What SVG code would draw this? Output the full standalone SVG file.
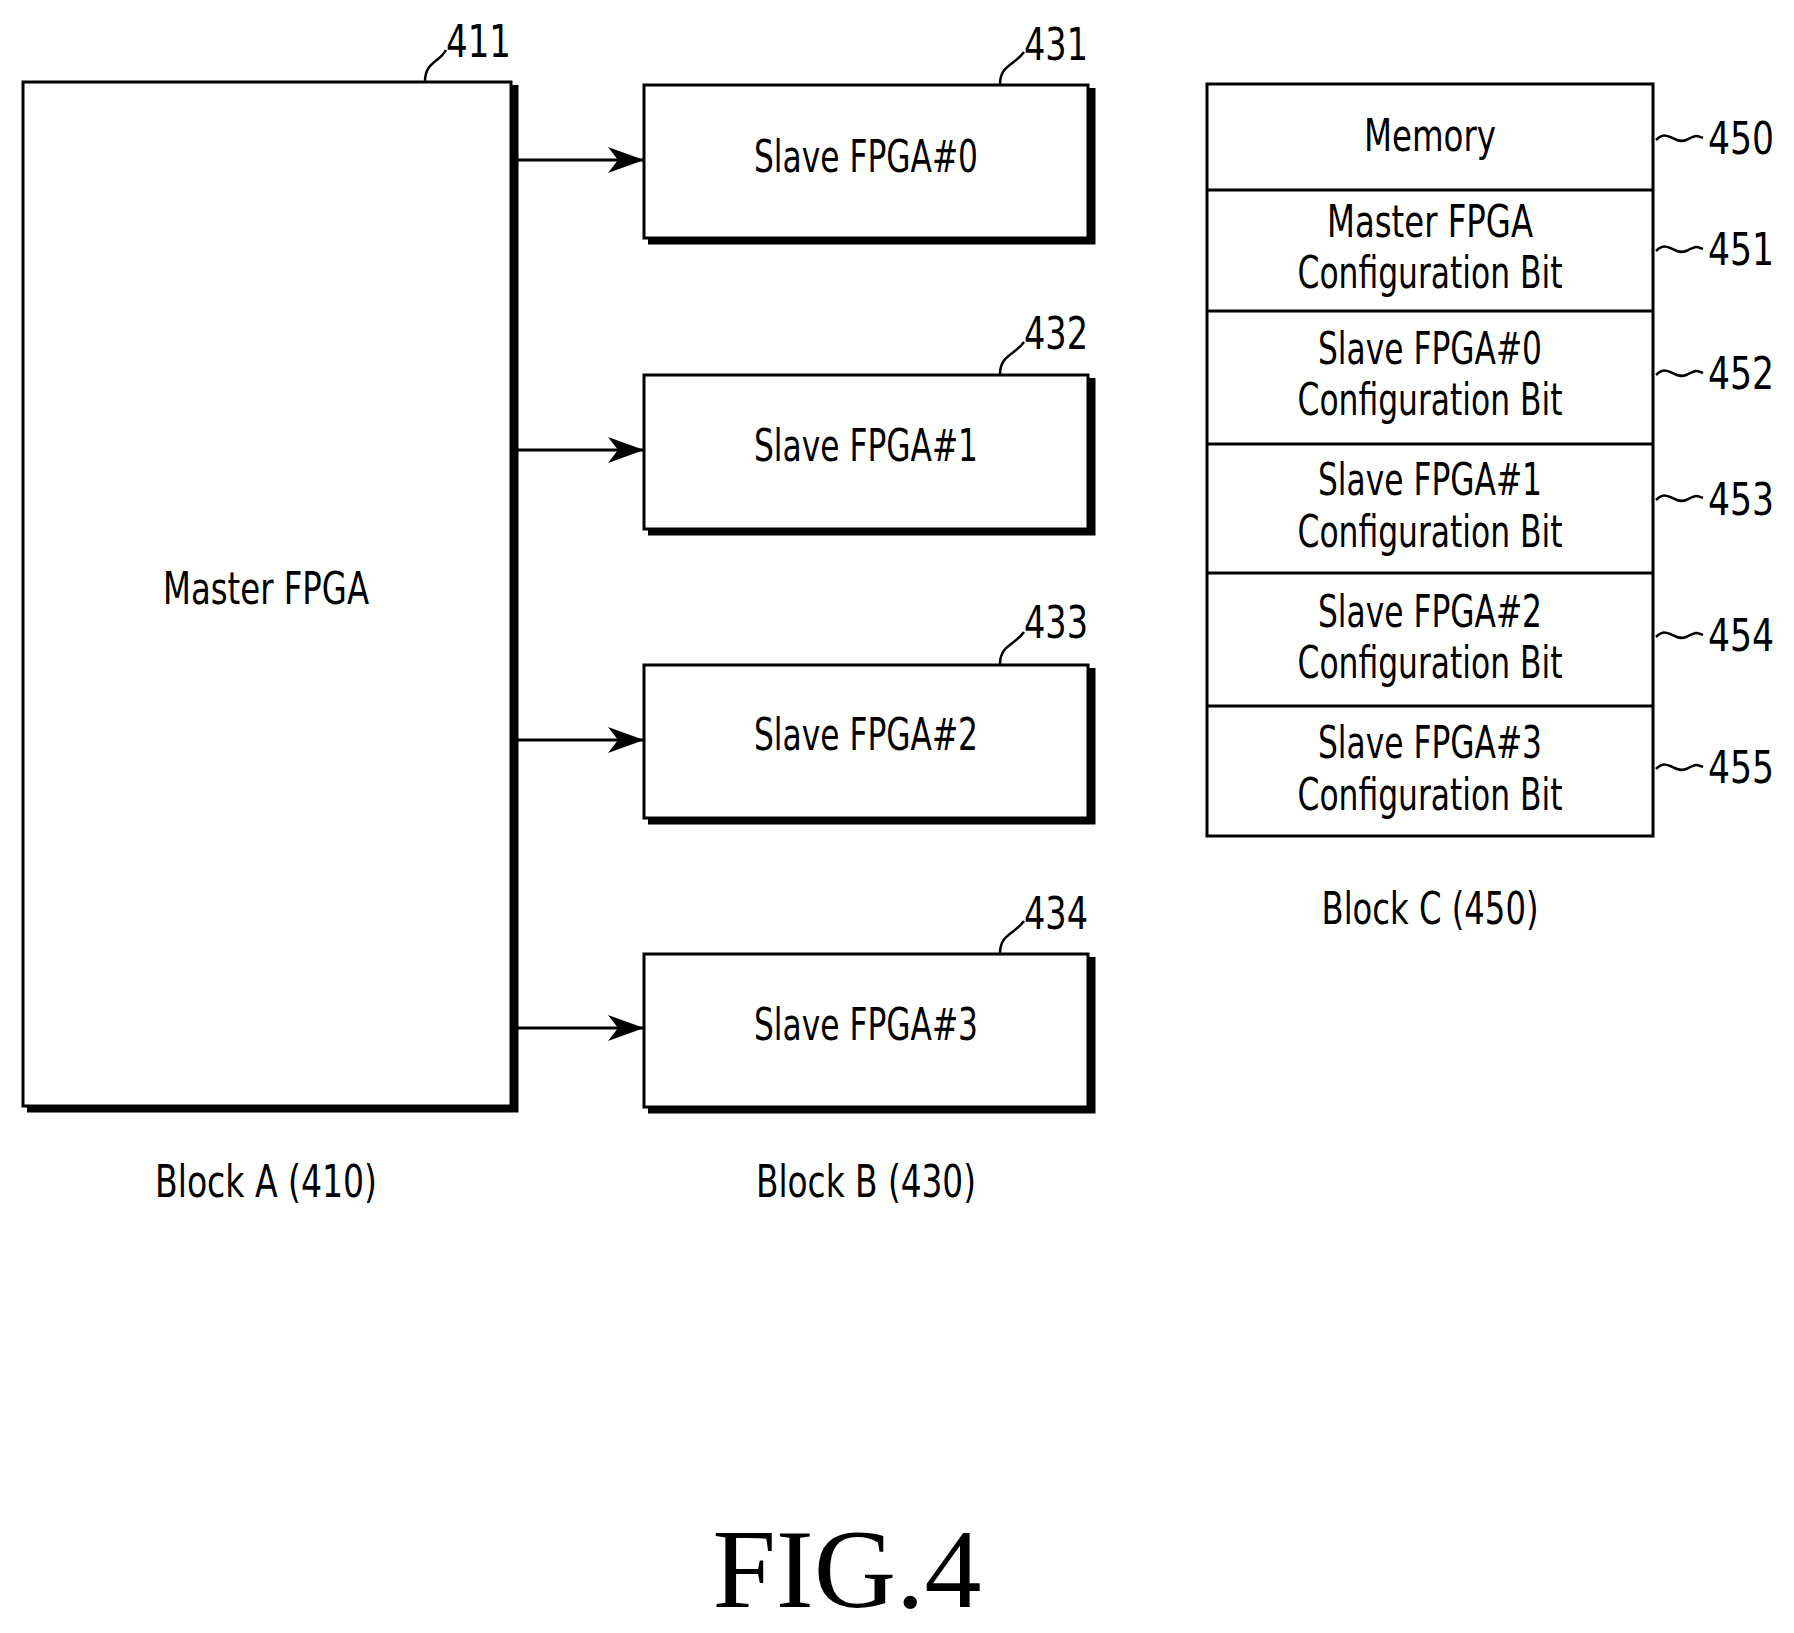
<svg xmlns="http://www.w3.org/2000/svg" width="1794" height="1633" viewBox="0 0 1794 1633">
<style>
.b{fill:#fff;stroke:#000;stroke-width:3}
.s{fill:none;stroke:#000;stroke-width:7}
.t{font-family:"DejaVu Sans Condensed","Liberation Sans",sans-serif;font-size:44px;text-anchor:middle;fill:#000}
.n{font-family:"DejaVu Sans Condensed","Liberation Sans",sans-serif;font-size:44px;fill:#000}
.l{fill:none;stroke:#000;stroke-width:2.5}
.c{stroke:#000;stroke-width:3;fill:none}
</style>
<defs><marker id="a" viewBox="0 0 36 26" refX="36" refY="13" markerWidth="36" markerHeight="26" markerUnits="userSpaceOnUse" orient="auto"><path d="M0,0 L36,13 L0,26 L10,13 Z" fill="#000"/></marker></defs>
<rect width="1794" height="1633" fill="#fff"/>
<g id="master">
<polyline class="s" points="515,85 515,1109 27,1109"/>
<rect class="b" x="23" y="82" width="488" height="1024"/>
<text class="t" x="266" y="604" textLength="206" lengthAdjust="spacingAndGlyphs">Master FPGA</text>
<path class="l" d="M425,81 C425,62 440,62 446,50"/><text class="n" x="446" y="57" textLength="65" lengthAdjust="spacingAndGlyphs">411</text>
<text class="t" x="266" y="1197" textLength="222" lengthAdjust="spacingAndGlyphs">Block A (410)</text>
</g>
<g id="slave0">
<polyline class="s" points="1092,88 1092,241 648,241"/>
<rect class="b" x="644" y="85" width="444" height="153"/>
<text class="t" x="866" y="172" textLength="224" lengthAdjust="spacingAndGlyphs">Slave FPGA#0</text>
<path class="l" d="M1000,84 C1000,65 1015,65 1024,52"/><text class="n" x="1024" y="60" textLength="64" lengthAdjust="spacingAndGlyphs">431</text>
</g>
<g id="slave1">
<polyline class="s" points="1092,378 1092,532 648,532"/>
<rect class="b" x="644" y="375" width="444" height="154"/>
<text class="t" x="866" y="461" textLength="224" lengthAdjust="spacingAndGlyphs">Slave FPGA#1</text>
<path class="l" d="M1000,374 C1000,355 1015,355 1024,342"/><text class="n" x="1024" y="349" textLength="64" lengthAdjust="spacingAndGlyphs">432</text>
</g>
<g id="slave2">
<polyline class="s" points="1092,668 1092,821 648,821"/>
<rect class="b" x="644" y="665" width="444" height="153"/>
<text class="t" x="866" y="750" textLength="224" lengthAdjust="spacingAndGlyphs">Slave FPGA#2</text>
<path class="l" d="M1000,664 C1000,645 1015,645 1024,632"/><text class="n" x="1024" y="638" textLength="64" lengthAdjust="spacingAndGlyphs">433</text>
</g>
<g id="slave3">
<polyline class="s" points="1092,957 1092,1110 648,1110"/>
<rect class="b" x="644" y="954" width="444" height="153"/>
<text class="t" x="866" y="1040" textLength="224" lengthAdjust="spacingAndGlyphs">Slave FPGA#3</text>
<path class="l" d="M1000,953 C1000,934 1015,934 1024,921"/><text class="n" x="1024" y="929" textLength="64" lengthAdjust="spacingAndGlyphs">434</text>
<text class="t" x="866" y="1197" textLength="220" lengthAdjust="spacingAndGlyphs">Block B (430)</text>
</g>
<g id="connectors">
<line class="c" x1="518" y1="160" x2="644" y2="160" marker-end="url(#a)"/>
<line class="c" x1="518" y1="450" x2="644" y2="450" marker-end="url(#a)"/>
<line class="c" x1="518" y1="740" x2="644" y2="740" marker-end="url(#a)"/>
<line class="c" x1="518" y1="1028" x2="644" y2="1028" marker-end="url(#a)"/>
</g>
<g id="memory">
<rect class="b" x="1207" y="84" width="446" height="752"/>
<line class="c" x1="1207" y1="190" x2="1653" y2="190"/>
<line class="c" x1="1207" y1="311" x2="1653" y2="311"/>
<line class="c" x1="1207" y1="444" x2="1653" y2="444"/>
<line class="c" x1="1207" y1="573" x2="1653" y2="573"/>
<line class="c" x1="1207" y1="706" x2="1653" y2="706"/>
<text class="t" x="1430" y="151" textLength="132" lengthAdjust="spacingAndGlyphs">Memory</text>
<text class="t" x="1430" y="237" textLength="206" lengthAdjust="spacingAndGlyphs">Master FPGA</text>
<text class="t" x="1430" y="288" textLength="265" lengthAdjust="spacingAndGlyphs">Configuration Bit</text>
<text class="t" x="1430" y="364" textLength="224" lengthAdjust="spacingAndGlyphs">Slave FPGA#0</text>
<text class="t" x="1430" y="415" textLength="265" lengthAdjust="spacingAndGlyphs">Configuration Bit</text>
<text class="t" x="1430" y="495" textLength="224" lengthAdjust="spacingAndGlyphs">Slave FPGA#1</text>
<text class="t" x="1430" y="547" textLength="265" lengthAdjust="spacingAndGlyphs">Configuration Bit</text>
<text class="t" x="1430" y="627" textLength="224" lengthAdjust="spacingAndGlyphs">Slave FPGA#2</text>
<text class="t" x="1430" y="678" textLength="265" lengthAdjust="spacingAndGlyphs">Configuration Bit</text>
<text class="t" x="1430" y="758" textLength="224" lengthAdjust="spacingAndGlyphs">Slave FPGA#3</text>
<text class="t" x="1430" y="810" textLength="265" lengthAdjust="spacingAndGlyphs">Configuration Bit</text>
<g class="l">
<path d="M1656,140 C1668,128 1675,145 1686,140 S1695,135 1703,138"/>
<path d="M1656,251 C1668,239 1675,256 1686,251 S1695,246 1703,249"/>
<path d="M1656,375 C1668,363 1675,380 1686,375 S1695,370 1703,373"/>
<path d="M1656,500 C1668,488 1675,505 1686,500 S1695,495 1703,498"/>
<path d="M1656,637 C1668,625 1675,642 1686,637 S1695,632 1703,635"/>
<path d="M1656,769 C1668,757 1675,774 1686,769 S1695,764 1703,767"/>
</g>
<text class="n" x="1708" y="154" textLength="66" lengthAdjust="spacingAndGlyphs">450</text>
<text class="n" x="1708" y="265" textLength="66" lengthAdjust="spacingAndGlyphs">451</text>
<text class="n" x="1708" y="389" textLength="66" lengthAdjust="spacingAndGlyphs">452</text>
<text class="n" x="1708" y="515" textLength="66" lengthAdjust="spacingAndGlyphs">453</text>
<text class="n" x="1708" y="651" textLength="66" lengthAdjust="spacingAndGlyphs">454</text>
<text class="n" x="1708" y="783" textLength="66" lengthAdjust="spacingAndGlyphs">455</text>
<text class="t" x="1430" y="924" textLength="217" lengthAdjust="spacingAndGlyphs">Block C (450)</text>
</g>
<text x="847" y="1607" font-family="Liberation Serif,serif" font-size="112" text-anchor="middle" textLength="269" lengthAdjust="spacingAndGlyphs">FIG.4</text>
</svg>
